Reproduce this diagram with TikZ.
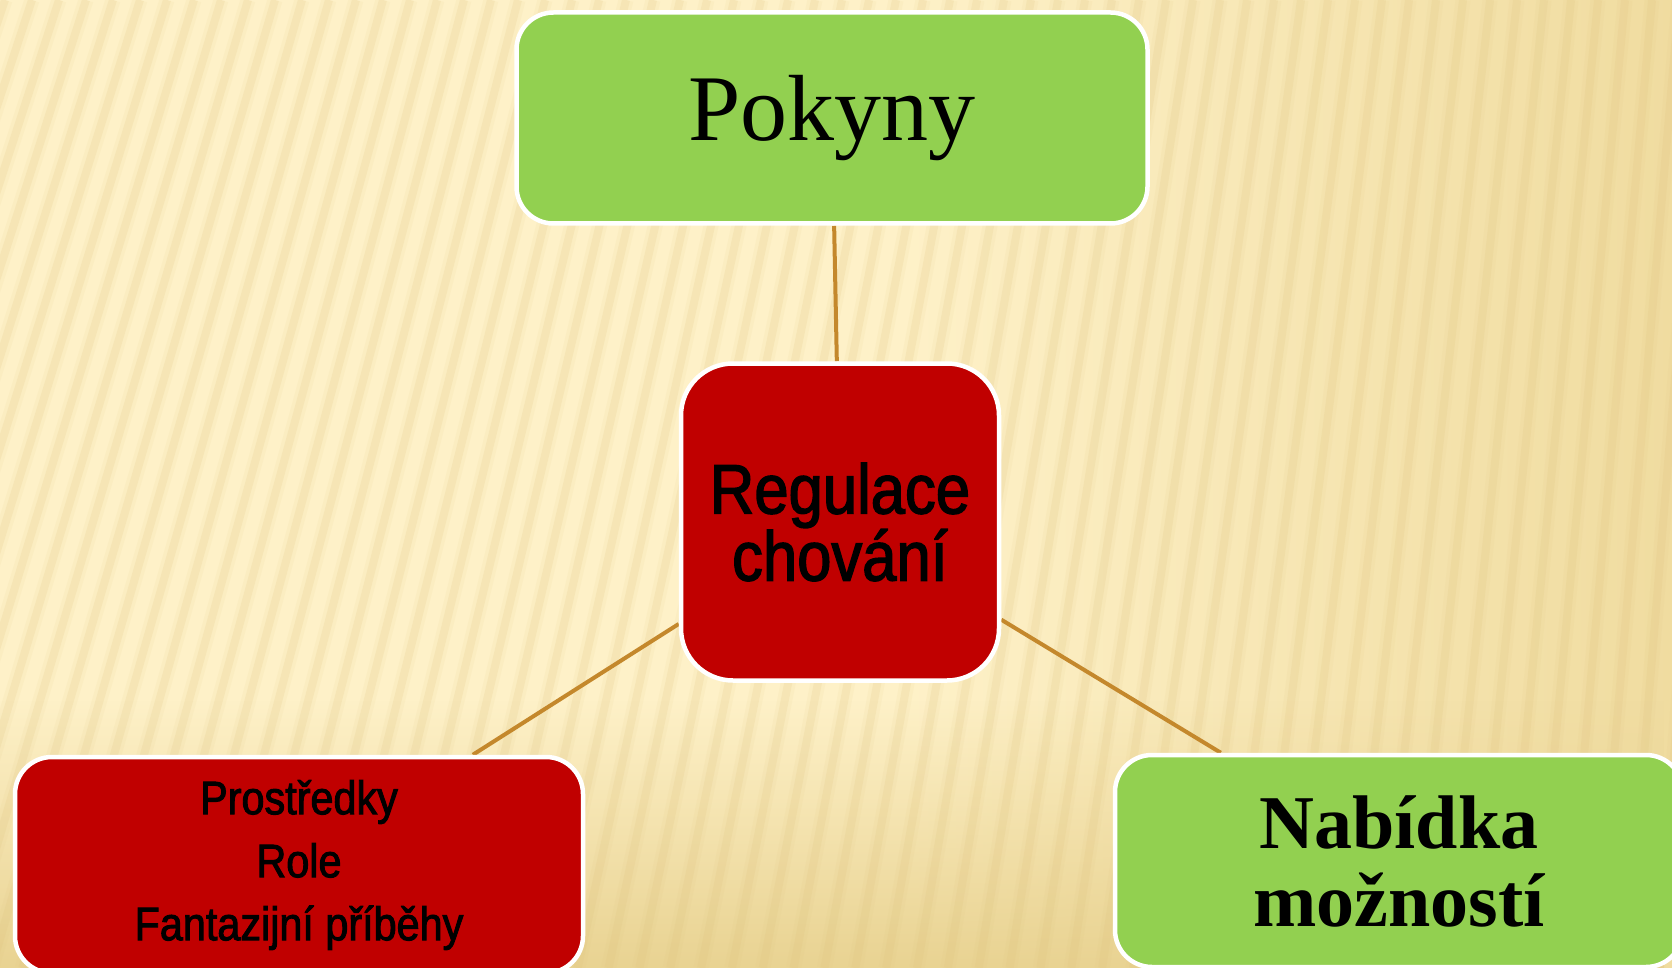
\documentclass[tikz,border=0pt]{standalone}
\usepackage{fontspec}
\setmainfont{Liberation Serif}
\newfontfamily\gothic[FakeStretch=0.88,FakeBold=2]{Liberation Sans}
\usetikzlibrary{fadings}
\definecolor{bglight}{HTML}{FEF1C8}
\definecolor{bgdark}{HTML}{F0DCA0}
\definecolor{bgbottom}{HTML}{E9D392}
\definecolor{stripe}{HTML}{DDC07A}
\definecolor{boxgreen}{HTML}{92D050}
\definecolor{boxred}{HTML}{C00000}
\definecolor{linkcol}{RGB}{196,136,44}
\pgfdeclarelayer{bg}
\pgfdeclarelayer{links}
\pgfsetlayers{bg,links,main}
\begin{document}
\begin{tikzpicture}[x=1pt,y=-1pt,
  box/.style={draw=white, line width=4.5pt, rounded corners=#1, inner sep=0pt, align=center},
  linkline/.style={draw=linkcol, line width=4pt}]
\useasboundingbox (0,0) rectangle (1672,968);
\clip (0,0) rectangle (1672,968);
\begin{pgfonlayer}{bg}
  \fill[bglight] (0,0) rectangle (1672,968);
  \shade[left color=bglight, right color=bgdark] (900,0) rectangle (1672,968);
  \fill[bgbottom, path fading=north] (0,700) rectangle (1672,968);
  \foreach \xt in {-400,-373,...,1900} {
    \draw[stripe, line width=15pt, opacity=0.08] (\xt,0) -- ({2263+(\xt-2263)*1.1426},968);
    \draw[stripe, line width=8pt, opacity=0.16] (\xt,0) -- ({2263+(\xt-2263)*1.1426},968);
  }
\end{pgfonlayer}
\node[box=37pt, fill=boxgreen, minimum width=631pt, minimum height=211pt,
      font=\fontsize{94}{100}\selectfont] (pok) at (832,118) {Pokyny};
\node[box=52pt, fill=boxred, minimum width=318pt, minimum height=317pt,
      font=\gothic\fontsize{70}{64}\selectfont] (reg) at (840,522) {Regulace\\chování};
\node[box=37pt, fill=boxred, minimum width=568pt, minimum height=216pt,
      font=\gothic\fontsize{47}{63}\selectfont] (pro) at (299,865) {Prostředky\\Role\\Fantazijní příběhy};
\node[box=37pt, fill=boxgreen, minimum width=568pt, minimum height=212pt,
      font=\bfseries\fontsize{76}{78}\selectfont] (nab) at (1399,861) {Nabídka\\možností};
\begin{pgfonlayer}{links}
  \draw[linkline] (reg) -- (pok);
  \draw[linkline] (reg) -- (pro);
  \draw[linkline] (reg) -- (nab);
\end{pgfonlayer}
\end{tikzpicture}
\end{document}
